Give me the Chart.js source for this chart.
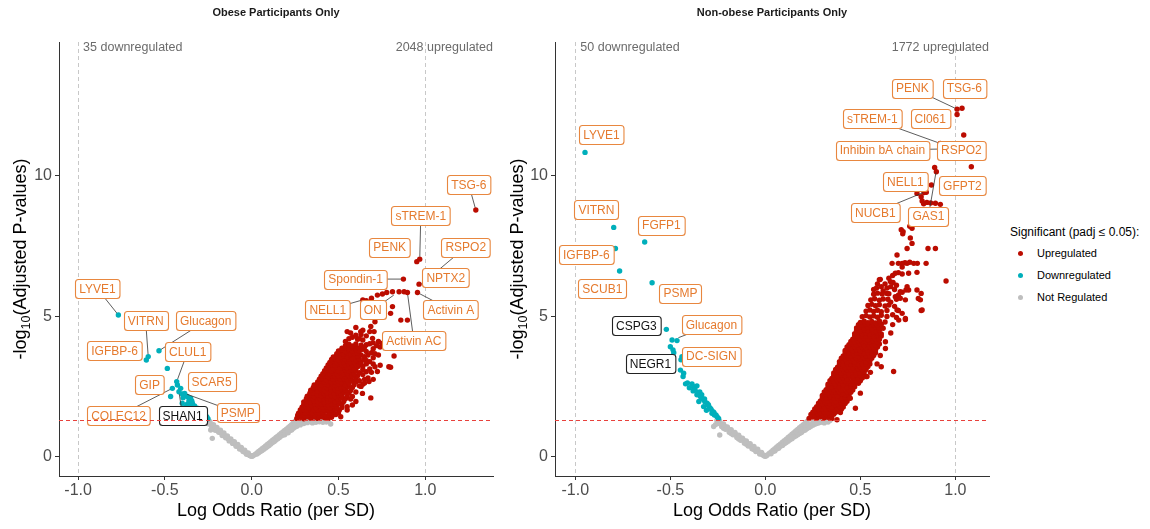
<!DOCTYPE html>
<html><head><meta charset="utf-8">
<script src="https://cdn.jsdelivr.net/npm/chart.js@4.4.1/dist/chart.umd.min.js"></script>
<style>
html,body{margin:0;padding:0;background:#fff;}
#wrap{position:relative;width:1150px;height:529px;overflow:hidden;font-family:"Liberation Sans",Arial,sans-serif;}
canvas{position:absolute;top:0;}
#c1{left:0;} #c2{left:500px;}
.lg{position:absolute;white-space:nowrap;color:#000;line-height:14px;}
.dot{position:absolute;width:5px;height:5px;border-radius:50%;}
</style></head>
<body><div id="wrap">
<canvas id="c1" width="500" height="529"></canvas>
<canvas id="c2" width="500" height="529"></canvas>
<div class="lg" style="left:1010px;top:225px;font-size:12px;">Significant (padj ≤ 0.05):</div>
<div class="dot" style="left:1018px;top:251px;background:#bb0c00"></div>
<div class="lg" style="left:1037px;top:246px;font-size:11px;">Upregulated</div>
<div class="dot" style="left:1018px;top:273px;background:#00afbb"></div>
<div class="lg" style="left:1037px;top:268px;font-size:11px;">Downregulated</div>
<div class="dot" style="left:1018px;top:295px;background:#bebebe"></div>
<div class="lg" style="left:1037px;top:290px;font-size:11px;">Not Regulated</div>
</div>
<script>
const FF = '"Liberation Sans", Arial, sans-serif';
const xTicks = [-1, -0.5, 0, 0.5, 1];
const yTicks = [0, 5, 10];
const panelTitles = ['Obese Participants Only', 'Non-obese Participants Only'];
const downCounts = [35, 50];
const upCounts = [2048, 1772];
const fcLines = [-1, 1];
const padjLine = 1.30103;

const obeseUp = [
[.26,1.36],[.28,1.40],[.30,1.35],[.32,1.42],[.34,1.37],[.36,1.41],[.38,1.36],[.40,1.42],[.42,1.38],[.44,1.36],[.46,1.40],
[.265,1.47],[.285,1.49],[.305,1.46],[.325,1.48],[.345,1.50],[.365,1.46],[.385,1.48],[.405,1.49],[.425,1.46],[.445,1.48],[.465,1.47],[.485,1.50],
[.27,1.55],[.29,1.60],[.31,1.54],[.33,1.59],[.35,1.56],[.37,1.61],[.39,1.55],[.41,1.58],[.43,1.62],[.45,1.55],[.47,1.59],[.50,1.56],
[.28,1.66],[.30,1.68],[.32,1.65],[.34,1.69],[.36,1.66],[.38,1.67],[.40,1.69],[.42,1.65],[.44,1.68],[.46,1.66],[.48,1.69],[.505,1.66],
[.29,1.76],[.31,1.80],[.33,1.74],[.35,1.79],[.37,1.75],[.39,1.81],[.41,1.76],[.43,1.78],[.45,1.74],[.47,1.80],[.49,1.77],[.52,1.75],
[.30,1.86],[.32,1.88],[.34,1.85],[.36,1.89],[.38,1.86],[.40,1.87],[.42,1.89],[.44,1.85],[.46,1.88],[.48,1.86],[.50,1.89],[.52,1.86],
[.30,1.95],[.32,2.00],[.34,1.94],[.36,1.99],[.38,1.96],[.40,2.01],[.42,1.95],[.44,1.98],[.46,2.02],[.48,1.95],[.50,1.99],[.53,1.96],
[.315,2.06],[.335,2.08],[.355,2.05],[.375,2.09],[.395,2.06],[.415,2.07],[.435,2.09],[.455,2.05],[.475,2.08],[.495,2.06],[.515,2.09],[.54,2.06],
[.32,2.15],[.34,2.20],[.36,2.14],[.38,2.19],[.40,2.16],[.42,2.21],[.44,2.15],[.46,2.18],[.48,2.14],[.50,2.20],[.52,2.17],[.55,2.15],
[.335,2.26],[.355,2.28],[.375,2.25],[.395,2.29],[.415,2.26],[.435,2.27],[.455,2.29],[.475,2.25],[.495,2.28],[.515,2.26],[.535,2.29],[.56,2.26],
[.34,2.36],[.36,2.40],[.38,2.34],[.40,2.39],[.42,2.35],[.44,2.41],[.46,2.36],[.48,2.38],[.50,2.34],[.52,2.40],[.54,2.37],[.57,2.35],
[.355,2.46],[.375,2.48],[.395,2.45],[.415,2.49],[.435,2.46],[.455,2.47],[.475,2.49],[.495,2.45],[.515,2.48],[.535,2.46],[.555,2.49],[.58,2.46],
[.36,2.55],[.38,2.60],[.40,2.54],[.42,2.59],[.44,2.56],[.46,2.61],[.48,2.55],[.50,2.58],[.52,2.62],[.54,2.55],[.56,2.59],[.59,2.56],
[.38,2.66],[.40,2.68],[.42,2.65],[.44,2.69],[.46,2.66],[.48,2.67],[.50,2.69],[.52,2.65],[.54,2.68],[.56,2.66],[.58,2.69],[.60,2.66],
[.39,2.76],[.41,2.80],[.43,2.74],[.45,2.79],[.47,2.75],[.49,2.81],[.51,2.76],[.53,2.78],[.55,2.74],[.57,2.80],[.60,2.77],
[.40,2.86],[.42,2.88],[.44,2.85],[.46,2.89],[.48,2.86],[.50,2.87],[.52,2.89],[.54,2.85],[.56,2.88],[.58,2.86],[.61,2.88],
[.41,2.95],[.43,3.00],[.45,2.94],[.47,2.99],[.49,2.96],[.51,3.01],[.53,2.95],[.55,2.98],[.57,3.02],[.59,2.95],[.62,2.99],
[.42,3.06],[.44,3.08],[.46,3.05],[.48,3.09],[.50,3.06],[.52,3.07],[.54,3.09],[.56,3.05],[.58,3.08],[.60,3.06],
[.43,3.16],[.45,3.20],[.47,3.14],[.49,3.19],[.51,3.15],[.53,3.21],[.55,3.16],[.57,3.18],[.59,3.14],[.61,3.20],
[.44,3.26],[.46,3.28],[.48,3.25],[.50,3.29],[.52,3.26],[.54,3.27],[.56,3.29],[.58,3.25],[.60,3.28],[.62,3.26],
[.45,3.35],[.47,3.40],[.49,3.34],[.51,3.39],[.53,3.36],[.55,3.41],[.57,3.35],[.59,3.38],[.61,3.42],[.63,3.36],
[.46,3.46],[.48,3.48],[.50,3.45],[.52,3.49],[.54,3.46],[.56,3.47],[.58,3.49],[.60,3.45],[.62,3.48],
[.47,3.55],[.49,3.60],[.51,3.54],[.53,3.59],[.55,3.56],[.57,3.61],[.59,3.55],[.61,3.58],[.63,3.62],
[.49,3.66],[.51,3.68],[.53,3.65],[.55,3.69],[.57,3.66],[.59,3.67],[.61,3.69],
[.50,3.76],[.52,3.80],[.54,3.74],[.56,3.79],[.58,3.75],[.60,3.81],[.62,3.77],
[.52,3.86],[.54,3.88],[.56,3.85],[.58,3.89],[.60,3.86],[.62,3.87],
[.54,3.95],[.56,4.00],[.58,3.94],[.60,4.01],[.63,3.97],
[.62,2.52],[.64,2.58],[.62,2.70],[.65,2.75],[.64,2.92],[.66,3.02],[.64,3.10],[.68,3.12],[.64,3.22],[.66,3.30],[.68,3.38],
[.70,3.30],[.65,3.46],[.65,3.56],[.67,3.62],[.69,3.70],[.71,3.66],[.66,3.74],[.64,3.82],[.66,3.98],[.70,3.84],[.75,4.03],
[.70,4.05],[.73,4.10],[.54,4.10],[.56,4.20],[.60,4.32],[.63,4.35],[.66,4.30],[.68,4.45],[.57,4.40],[.61,4.18],[.64,4.15],
[.60,1.96],[.638,2.25],[.686,2.09],[.676,2.67],[.724,3.03],[.79,3.20],[.513,1.42],[.55,1.78],[.58,2.14],[.70,2.75],[.74,3.25],
[.65,2.62],[.67,2.80],[.69,3.00],[.71,3.20],[.66,3.42],[.70,3.52],[.73,3.62],[.65,3.90],[.68,4.02],[.72,3.95],[.74,3.90],
[.62,4.20],[.58,4.25],[.55,4.45],[.60,4.60],[.64,4.50],[.628,4.45],[.686,4.63],[.705,4.45],[.696,4.21],[.705,5.04],[.72,5.00],
[.71,4.80],[.82,3.58],[.80,3.18],[.58,1.84],[.55,1.66],[.57,2.05],[.60,2.30],[.63,2.50],[.859,4.86],[.897,4.86],[.811,5.34],
[.80,5.10],[.69,5.64],[.724,5.75],[.753,5.79],[.778,5.84],[.811,5.87],[.849,5.87],[.878,5.87],[.897,5.84],[.955,5.84],
[.964,6.14],[.874,6.32],[.951,6.94],[.968,7.03],[1.291,8.78],[.64,5.58],[.66,5.55]
];
const obeseDown = [
[-.768,5.04],[-.596,3.56],[-.607,3.44],[-.534,3.77],[-.486,3.14],[-.432,2.67],[-.428,2.55],[-.409,2.43],[-.457,2.43],
[-.419,2.31],[-.40,2.23],[-.386,2.25],[-.467,2.14],[-.371,2.14],[-.352,2.08],[-.361,1.96],[-.342,1.90],[-.371,1.87],
[-.329,1.80],[-.313,1.72],[-.352,1.78],[-.294,1.64],[-.275,1.54],[-.259,1.42],[-.252,1.35],[-.40,1.90],[-.38,1.78],
[-.36,2.02],[-.34,1.84],[-.32,1.66],[-.30,1.58],[-.28,1.46],[-.395,2.10],[-.345,1.98],[-.365,1.80]
];
const obeseNS = [
[-.26,1.27],[-.255,1.22],[-.25,1.29],[-.245,1.20],[-.24,1.16],[-.236,0.95],[-.232,1.12],[-.227,0.65],[-.225,1.09],[-.22,1.04],
[-.215,1.06],[-.21,1.01],[-.205,0.98],[-.20,0.96],[-.195,0.93],[-.19,0.90],[-.185,0.92],[-.18,0.87],[-.175,0.84],[-.17,0.82],
[-.165,0.80],[-.16,0.77],[-.155,0.74],[-.15,0.72],[-.145,0.70],[-.14,0.67],[-.135,0.64],[-.13,0.62],[-.125,0.60],[-.12,0.57],
[-.115,0.55],[-.11,0.52],[-.105,0.50],[-.10,0.47],[-.095,0.45],[-.09,0.42],[-.085,0.40],[-.08,0.37],[-.075,0.35],[-.07,0.32],
[-.065,0.30],[-.06,0.27],[-.055,0.25],[-.05,0.22],[-.045,0.20],[-.04,0.17],[-.035,0.15],[-.03,0.12],[-.025,0.10],[-.02,0.08],
[-.015,0.06],[-.01,0.04],[-.005,0.02],[0,0.01],[-.21,0.94],[-.17,0.75],[-.13,0.56],[-.09,0.37],[-.05,0.18],[-.23,1.02],
[-.25,1.17],[-.19,0.87],[-.15,0.67],[-.11,0.47],[-.07,0.27],[-.03,0.08],
[-.24,1.24],[-.22,1.14],[-.20,1.04],[-.18,0.94],[-.16,0.84],[-.14,0.74],[-.12,0.63],[-.10,0.53],[-.08,0.43],[-.06,0.33],[-.04,0.23],[-.02,0.13],
[.005,.02],[.01,.04],[.02,.08],[.03,.13],[.04,.18],[.05,.23],[.06,.28],[.07,.33],[.08,.38],[.09,.43],[.10,.48],[.11,.53],
[.12,.58],[.13,.63],[.14,.68],[.15,.73],[.16,.78],[.17,.83],[.18,.88],[.19,.93],[.20,.98],[.21,1.03],[.22,1.08],[.23,1.14],
[.24,1.20],[.25,1.26],[.04,.14],[.06,.22],[.08,.31],[.10,.40],[.12,.50],[.14,.59],[.16,.68],[.18,.77],[.20,.85],[.22,.93],
[.24,1.01],[.26,1.08],[.28,1.13],[.30,1.18],[.32,1.21],[.34,1.24],[.36,1.26],[.38,1.28],[.27,1.22],[.29,1.27],[.31,1.29],
[.33,1.28],[.25,1.14],[.23,1.02],[.21,.92],[.19,.84],[.35,1.20],[.37,1.22],[.40,1.27],[.42,1.29],[.44,1.26],[.455,1.16],
[.03,.09],[.05,.18],[.07,.26],[.09,.35],[.11,.45],[.13,.54],[.15,.64],[.17,.73],[.19,.78],[.21,.85],[.23,.95],[.25,1.05],
[.27,1.15],[.29,1.21],[.31,1.24],[.33,1.25],[.35,1.28],[.39,1.24],[.41,1.22],[.43,1.23]
];

const nonObeseUp = [
[.23,1.36],[.25,1.41],[.27,1.37],[.29,1.42],[.31,1.38],[.33,1.40],[.35,1.36],
[.24,1.50],[.26,1.48],[.28,1.51],[.30,1.49],[.32,1.50],[.34,1.48],[.36,1.51],
[.25,1.58],[.27,1.62],[.29,1.56],[.31,1.61],[.33,1.57],[.35,1.63],[.37,1.58],
[.26,1.70],[.28,1.68],[.30,1.71],[.32,1.69],[.34,1.70],[.36,1.68],[.38,1.71],[.40,1.69],
[.27,1.78],[.29,1.82],[.31,1.77],[.33,1.81],[.35,1.76],[.37,1.83],[.39,1.79],[.41,1.77],
[.28,1.90],[.30,1.88],[.32,1.91],[.34,1.89],[.36,1.90],[.38,1.88],[.40,1.91],[.42,1.89],
[.29,1.98],[.31,2.02],[.33,1.97],[.35,2.01],[.37,1.96],[.39,2.03],[.41,1.99],[.43,1.97],
[.30,2.10],[.32,2.08],[.34,2.11],[.36,2.09],[.38,2.10],[.40,2.08],[.42,2.11],[.44,2.09],
[.30,2.18],[.32,2.22],[.34,2.17],[.36,2.21],[.38,2.16],[.40,2.23],[.42,2.19],[.44,2.17],
[.31,2.30],[.33,2.28],[.35,2.31],[.37,2.29],[.39,2.30],[.41,2.28],[.43,2.31],[.45,2.29],
[.32,2.38],[.34,2.42],[.36,2.37],[.38,2.41],[.40,2.36],[.42,2.43],[.44,2.39],[.46,2.37],
[.33,2.50],[.35,2.48],[.37,2.51],[.39,2.49],[.41,2.50],[.43,2.48],[.45,2.51],[.47,2.49],
[.33,2.58],[.35,2.62],[.37,2.57],[.39,2.61],[.41,2.56],[.43,2.63],[.45,2.59],[.47,2.57],[.49,2.61],
[.34,2.70],[.36,2.68],[.38,2.71],[.40,2.69],[.42,2.70],[.44,2.68],[.46,2.71],[.48,2.69],[.50,2.70],
[.35,2.78],[.37,2.82],[.39,2.77],[.41,2.81],[.43,2.76],[.45,2.83],[.47,2.79],[.49,2.77],[.51,2.80],
[.36,2.90],[.38,2.88],[.40,2.91],[.42,2.89],[.44,2.90],[.46,2.88],[.48,2.91],[.50,2.89],[.52,2.90],
[.36,2.98],[.38,3.02],[.40,2.97],[.42,3.01],[.44,2.96],[.46,3.03],[.48,2.99],[.50,2.97],[.52,3.01],
[.37,3.10],[.39,3.08],[.41,3.11],[.43,3.09],[.45,3.10],[.47,3.08],[.49,3.11],[.51,3.09],[.53,3.10],
[.38,3.18],[.40,3.22],[.42,3.17],[.44,3.21],[.46,3.16],[.48,3.23],[.50,3.19],[.52,3.17],[.54,3.21],
[.39,3.30],[.41,3.28],[.43,3.31],[.45,3.29],[.47,3.30],[.49,3.28],[.51,3.31],[.53,3.29],[.55,3.30],
[.39,3.38],[.41,3.42],[.43,3.37],[.45,3.41],[.47,3.36],[.49,3.43],[.51,3.39],[.53,3.37],[.55,3.41],
[.40,3.50],[.42,3.48],[.44,3.51],[.46,3.49],[.48,3.50],[.50,3.48],[.52,3.51],[.54,3.49],[.56,3.50],
[.41,3.58],[.43,3.62],[.45,3.57],[.47,3.61],[.49,3.56],[.51,3.63],[.53,3.59],[.55,3.57],[.57,3.60],
[.42,3.70],[.44,3.68],[.46,3.71],[.48,3.69],[.50,3.70],[.52,3.68],[.54,3.71],[.56,3.69],[.58,3.70],
[.42,3.78],[.44,3.82],[.46,3.77],[.48,3.81],[.50,3.76],[.52,3.83],[.54,3.79],[.56,3.77],[.58,3.80],
[.43,3.90],[.45,3.88],[.47,3.91],[.49,3.89],[.51,3.90],[.53,3.88],[.55,3.91],[.57,3.89],[.59,3.90],
[.44,3.98],[.46,4.02],[.48,3.97],[.50,4.01],[.52,3.96],[.54,4.03],[.56,3.99],[.58,3.97],[.60,4.01],
[.45,4.10],[.47,4.08],[.49,4.11],[.51,4.09],[.53,4.10],[.55,4.08],[.57,4.11],[.59,4.09],
[.46,4.18],[.48,4.22],[.50,4.17],[.52,4.21],[.54,4.16],[.56,4.23],[.58,4.19],[.60,4.17],
[.47,4.30],[.49,4.28],[.51,4.31],[.53,4.29],[.55,4.30],[.57,4.28],[.59,4.31],[.61,4.29],
[.47,4.38],[.49,4.42],[.51,4.37],[.53,4.41],[.55,4.36],[.57,4.43],[.59,4.39],[.61,4.37],
[.48,4.50],[.50,4.48],[.52,4.51],[.54,4.49],[.56,4.50],[.58,4.48],[.60,4.51],
[.48,4.58],[.50,4.62],[.52,4.57],[.54,4.61],[.56,4.56],[.58,4.63],[.60,4.59],[.62,4.57],
[.49,4.70],[.51,4.68],[.53,4.71],[.55,4.69],[.57,4.70],[.59,4.68],[.61,4.71],
[.50,4.78],[.52,4.82],[.54,4.77],[.56,4.81],[.58,4.76],[.60,4.83],[.63,4.79],
[.51,4.98],[.53,5.02],[.55,4.97],[.57,5.01],[.59,4.96],[.61,5.03],[.64,4.99],
[.53,5.18],[.55,5.22],[.57,5.17],[.59,5.21],[.61,5.16],[.64,5.20],
[.54,5.38],[.56,5.42],[.58,5.37],[.60,5.41],[.63,5.36],[.65,5.40],
[.555,5.58],[.575,5.62],[.60,5.57],[.62,5.61],[.645,5.60],
[.57,5.78],[.59,5.82],[.615,5.79],[.64,5.81],
[.585,6.00],[.61,6.05],
[.62,5.90],[.64,6.00],[.66,6.05],[.68,5.95],[.70,5.75],[.72,5.85],[.74,5.93],[.66,5.50],[.68,5.35],[.70,5.20],[.67,5.05],
[.69,4.95],[.72,5.10],[.754,5.93],[.69,5.60],[.63,6.15],[.65,6.35],[.67,6.45],[.70,6.55],[.72,6.75],[.735,6.90],[.76,6.92],
[.80,6.88],[.57,5.95],[.59,6.15],[.60,6.30],[.816,5.58],[.82,5.20],[.71,5.64],
[.605,6.31],[.658,6.23],[.672,6.20],[.69,6.10],[.746,6.05],[.798,5.93],[.805,5.63],[.82,5.81],[.825,5.22],[.737,4.92],
[.702,4.86],[.675,3.03],[.61,3.20],[.53,2.85],[.474,1.72],[.395,1.57],[.377,1.31],[.951,6.25],[.667,6.88],[.693,7.18],
[.70,6.88],[.72,6.88],[.746,6.88],[.781,6.88],[.846,6.88],[.684,6.53],[.72,6.50],[.754,6.53],[.798,6.56],[.746,7.41],
[.772,7.59],[.763,7.78],[.772,8.13],[.76,8.20],[.723,7.93],[.856,7.41],[.895,7.41],[.725,8.01],[.715,8.08],
[1.009,12.37],[1.035,12.40],[1.009,12.18],[1.044,11.45],[1.084,10.32],[.891,10.29],[.90,10.14],[.874,9.67],[.847,9.41],
[.835,9.40],[.798,9.37],[.82,9.25],[.825,9.10],[.85,9.05],[.87,9.03],[.895,9.02],[.921,8.98],[.833,9.00],[.92,11.15],[.925,10.95],
[.71,5.87],[.684,5.69],[.737,5.58],[.693,5.22],[.737,4.88],[.632,4.09],[.632,3.85],[.605,3.60],[.588,3.30],[.553,3.00],
[.535,2.85],[.50,2.26],[.447,2.08],[.66,4.40],[.67,4.70],[.65,5.80]
];
const nonObeseDown = [
[-.949,10.83],[-.798,8.16],[-.789,7.41],[-.635,7.64],[-.767,6.61],[-.596,6.19],[-.521,4.53],[-.491,4.15],[-.465,4.13],
[-.50,3.91],[-.486,3.80],[-.482,3.70],[-.439,3.56],[-.43,3.44],[-.444,3.45],[-.447,3.08],[-.43,2.97],[-.433,2.85],
[-.42,2.59],[-.386,2.59],[-.377,2.49],[-.36,2.52],[-.38,2.34],[-.342,2.14],[-.334,2.08],[-.325,2.02],[-.35,1.96],
[-.307,1.90],[-.298,1.80],[-.29,1.72],[-.325,1.78],[-.281,1.54],[-.268,1.48],[-.254,1.42],[-.246,1.36],[-.36,2.20],
[-.345,2.30],[-.318,1.95],[-.31,1.65],[-.275,1.60],[-.40,2.45],[-.37,2.38],[-.355,2.28],[-.335,2.20],[-.30,1.85],
[-.285,1.68],[-.27,1.56],[-.26,1.48],[-.32,2.05],[-.41,2.62]
];
const nonObeseNS = [
[-.255,1.29],[-.25,1.26],[-.245,1.22],[-.24,1.20],[-.24,0.77],[-.272,1.07],[-.262,1.14],[-.235,1.17],[-.23,1.15],[-.225,1.12],
[-.22,1.10],[-.215,1.08],[-.21,1.05],[-.205,1.03],[-.20,1.00],[-.195,0.98],[-.19,0.95],[-.185,0.93],[-.18,0.90],[-.175,0.88],
[-.17,0.85],[-.165,0.83],[-.16,0.80],[-.155,0.78],[-.15,0.75],[-.145,0.73],[-.14,0.70],[-.135,0.68],[-.13,0.65],[-.125,0.63],
[-.12,0.60],[-.115,0.58],[-.11,0.55],[-.105,0.53],[-.10,0.50],[-.095,0.47],[-.09,0.45],[-.085,0.42],[-.08,0.40],[-.075,0.37],
[-.07,0.35],[-.065,0.32],[-.06,0.30],[-.055,0.27],[-.05,0.25],[-.045,0.22],[-.04,0.20],[-.035,0.17],[-.03,0.15],[-.025,0.12],
[-.02,0.10],[-.015,0.07],[-.01,0.05],[-.005,0.02],[0,0.01],[-.22,1.01],[-.18,0.82],[-.14,0.63],[-.10,0.44],[-.06,0.25],
[-.25,1.18],[-.23,1.07],[-.21,0.97],[-.19,0.87],[-.17,0.78],[-.15,0.68],[-.13,0.58],[-.11,0.48],[-.09,0.38],[-.07,0.28],[-.05,0.18],[-.03,0.09],
[-.24,1.26],[-.22,1.16],[-.20,1.06],[-.18,0.96],[-.16,0.86],[-.14,0.76],[-.12,0.66],[-.10,0.56],[-.08,0.46],[-.06,0.36],[-.04,0.26],[-.02,0.15],
[.005,.03],[.01,.06],[.02,.11],[.03,.17],[.04,.23],[.05,.28],[.06,.34],[.07,.40],[.08,.45],[.09,.51],[.10,.57],[.11,.62],
[.12,.68],[.13,.74],[.14,.80],[.15,.85],[.16,.91],[.17,.97],[.18,1.03],[.19,1.08],[.20,1.14],[.21,1.20],[.22,1.25],
[.04,.18],[.06,.27],[.08,.37],[.10,.46],[.12,.55],[.14,.64],[.16,.73],[.18,.82],[.20,.92],[.22,1.00],[.24,1.08],[.26,1.15],
[.28,1.20],[.30,1.24],[.32,1.27],[.34,1.29],[.23,1.14],[.25,1.22],[.27,1.26],[.29,1.29],[.21,1.06],[.19,0.96],[.17,0.87],
[.31,1.20],[.33,1.23],[.03,.10],[.05,.20],[.07,.30],[.09,.40],[.11,.50],[.13,.60],[.15,.70],[.17,.78],[.19,.86],[.21,.95],
[.23,1.04],[.25,1.12],[.27,1.18],[.29,1.22],[.31,1.25],[.33,1.27]
];

// label boxes: text, label centre (data units), optional leader target (data units), dark = black box
const obeseLabels = [
{t:'LYVE1',lx:-.888,ly:5.97,tx:-.768,ty:5.04},
{t:'VITRN',lx:-.611,ly:4.83,tx:-.596,ty:3.56},
{t:'Glucagon',lx:-.265,ly:4.83,tx:-.534,ty:3.77},
{t:'IGFBP-6',lx:-.790,ly:3.76},
{t:'CLUL1',lx:-.369,ly:3.73,tx:-.432,ty:2.67},
{t:'GIP',lx:-.588,ly:2.55},
{t:'SCAR5',lx:-.231,ly:2.66},
{t:'COLEC12',lx:-.767,ly:1.45,tx:-.457,ty:2.43},
{t:'SHAN1',lx:-.398,ly:1.45,tx:-.419,ty:2.31,dark:true},
{t:'PSMP',lx:-.081,ly:1.56,tx:-.386,ty:2.25},
{t:'Spondin-1',lx:.599,ly:6.32,tx:.874,ty:6.32},
{t:'NPTX2',lx:1.118,ly:6.36,tx:.964,ty:6.14},
{t:'NELL1',lx:.438,ly:5.22,tx:.64,ty:5.58},
{t:'ON',lx:.697,ly:5.22,tx:.83,ty:5.80},
{t:'Activin A',lx:1.147,ly:5.22,tx:.955,ty:5.84},
{t:'Activin AC',lx:.934,ly:4.12,tx:.897,ty:5.84},
{t:'TSG-6',lx:1.251,ly:9.67,tx:1.291,ty:8.78},
{t:'sTREM-1',lx:.974,ly:8.57,tx:.968,ty:7.03},
{t:'PENK',lx:.795,ly:7.46},
{t:'RSPO2',lx:1.233,ly:7.46,tx:1.02,ty:6.35}
];
const nonObeseLabels = [
{t:'PENK',lx:.774,ly:13.12,tx:1.009,ty:12.37},
{t:'TSG-6',lx:1.047,ly:13.12},
{t:'sTREM-1',lx:.563,ly:12.02,tx:.92,ty:11.15},
{t:'Cl061',lx:.868,ly:12.02},
{t:'Inhibin bA chain',lx:.616,ly:10.91,tx:.925,ty:10.95},
{t:'RSPO2',lx:1.032,ly:10.91},
{t:'NELL1',lx:.737,ly:9.80},
{t:'GFPT2',lx:1.037,ly:9.66},
{t:'NUCB1',lx:.579,ly:8.70,tx:.842,ty:9.43},
{t:'GAS1',lx:.858,ly:8.56,tx:.90,ty:10.20},
{t:'LYVE1',lx:-.863,ly:11.45},
{t:'VITRN',lx:-.889,ly:8.78},
{t:'FGFP1',lx:-.547,ly:8.24},
{t:'IGFBP-6',lx:-.942,ly:7.18},
{t:'SCUB1',lx:-.858,ly:5.97},
{t:'PSMP',lx:-.447,ly:5.82},
{t:'CSPG3',lx:-.679,ly:4.65,dark:true},
{t:'Glucagon',lx:-.284,ly:4.69,tx:-.47,ty:4.20},
{t:'NEGR1',lx:-.605,ly:3.30,dark:true},
{t:'DC-SIGN',lx:-.284,ly:3.58}
];

const panels = [
 {id:'c1', k:0, up:obeseUp, down:obeseDown, ns:obeseNS, labels:obeseLabels, xMin:-1.11, xMax:1.39, axisW:59, padRight:7, yTitleX:19},
 {id:'c2', k:1, up:nonObeseUp, down:nonObeseDown, ns:nonObeseNS, labels:nonObeseLabels, xMin:-1.107, xMax:1.177, axisW:55, padRight:11, yTitleX:16}
];

function boxPath(ctx, x, y, w, h, r){
  ctx.beginPath();
  ctx.moveTo(x+r,y); ctx.lineTo(x+w-r,y); ctx.quadraticCurveTo(x+w,y,x+w,y+r);
  ctx.lineTo(x+w,y+h-r); ctx.quadraticCurveTo(x+w,y+h,x+w-r,y+h);
  ctx.lineTo(x+r,y+h); ctx.quadraticCurveTo(x,y+h,x,y+h-r);
  ctx.lineTo(x,y+r); ctx.quadraticCurveTo(x,y,x+r,y); ctx.closePath();
}

function deco(p){
  return {
    id:'deco',
    beforeDatasetsDraw(chart){
      const {ctx, chartArea:a, scales:{x}} = chart;
      ctx.save();
      ctx.strokeStyle='#c8c8c8'; ctx.lineWidth=1; ctx.setLineDash([4,3]);
      fcLines.forEach(v=>{const px=Math.round(x.getPixelForValue(v))+0.5; ctx.beginPath(); ctx.moveTo(px,a.top); ctx.lineTo(px,a.bottom); ctx.stroke();});
      ctx.restore();
    },
    afterDatasetsDraw(chart){
      const {ctx, chartArea:a, scales:{x,y}} = chart;
      ctx.save();
      ctx.font='12px '+FF;
      const boxes = p.labels.map(L=>({L, cx:x.getPixelForValue(L.lx), cy:y.getPixelForValue(L.ly), w:ctx.measureText(L.t).width+8, h:19}));
      ctx.strokeStyle='#333'; ctx.lineWidth=0.8;
      boxes.forEach(b=>{
        if(b.L.tx===undefined) return;
        const tx=x.getPixelForValue(b.L.tx), ty=y.getPixelForValue(b.L.ty);
        const dx=tx-b.cx, dy=ty-b.cy, d=Math.hypot(dx,dy), s=Math.max(0,(d-2.5)/d);
        ctx.beginPath(); ctx.moveTo(b.cx,b.cy); ctx.lineTo(b.cx+dx*s,b.cy+dy*s); ctx.stroke();
      });
      ctx.textAlign='center'; ctx.textBaseline='middle';
      boxes.forEach(b=>{
        const bx=Math.round(b.cx-b.w/2)+0.5, by=Math.round(b.cy-b.h/2)+0.5;
        boxPath(ctx,bx,by,b.w,b.h,3);
        ctx.fillStyle='#fff'; ctx.fill();
        ctx.lineWidth=1.1; ctx.strokeStyle=b.L.dark?'#222':'#e8873f'; ctx.stroke();
        ctx.fillStyle=b.L.dark?'#111':'#e57a2e';
        ctx.fillText(b.L.t,b.cx,b.cy+1);
      });
      ctx.strokeStyle='#e8413c'; ctx.lineWidth=1; ctx.setLineDash([4,3]);
      const py=Math.round(y.getPixelForValue(padjLine))+0.5;
      ctx.beginPath(); ctx.moveTo(a.left,py); ctx.lineTo(a.right,py); ctx.stroke();
      ctx.restore();
    },
    afterDraw(chart){
      const {ctx, chartArea:a, scales:{x}} = chart;
      ctx.save();
      ctx.textBaseline='middle';
      ctx.font='bold 11px '+FF; ctx.fillStyle='#1a1a1a'; ctx.textAlign='center';
      ctx.fillText(panelTitles[p.k], (a.left+a.right)/2, 13);
      ctx.font='12.5px '+FF; ctx.fillStyle='#6b6b6b';
      ctx.textAlign='left'; ctx.fillText(downCounts[p.k]+' downregulated', x.getPixelForValue(-1)+5, 48);
      ctx.textAlign='right'; ctx.fillText(upCounts[p.k]+' upregulated', a.right, 48);
      ctx.font='18px '+FF; ctx.fillStyle='#000'; ctx.textAlign='center';
      ctx.fillText('Log Odds Ratio (per SD)', (a.left+a.right)/2, 511);
      ctx.translate(p.yTitleX, (a.top+a.bottom)/2); ctx.rotate(-Math.PI/2);
      ctx.textAlign='left'; ctx.textBaseline='alphabetic';
      const f1='18px '+FF, f2='12.5px '+FF;
      ctx.font=f1; const w1=ctx.measureText('-log').width, w3=ctx.measureText('(Adjusted P-values)').width;
      ctx.font=f2; const w2=ctx.measureText('10').width;
      let sx=-(w1+w2+w3)/2; const base=6.5;
      ctx.font=f1; ctx.fillText('-log',sx,base); sx+=w1;
      ctx.font=f2; ctx.fillText('10',sx,base+4); sx+=w2;
      ctx.font=f1; ctx.fillText('(Adjusted P-values)',sx,base);
      ctx.restore();
    }
  };
}

const toXY = arr => arr.map(([x,y])=>({x,y}));

panels.forEach(p=>{
  new Chart(document.getElementById(p.id), {
    type:'scatter',
    data:{datasets:[
      {label:'Upregulated', data:toXY(p.up), backgroundColor:'#bb0c00', pointRadius:2.7, borderWidth:0, pointHoverRadius:2.7},
      {label:'Downregulated', data:toXY(p.down), backgroundColor:'#00afbb', pointRadius:2.7, borderWidth:0, pointHoverRadius:2.7},
      {label:'Not Regulated', data:toXY(p.ns), backgroundColor:'#bebebe', pointRadius:2.7, borderWidth:0, pointHoverRadius:2.7}
    ]},
    options:{
      responsive:false, animation:false, events:[],
      layout:{padding:{top:42, right:p.padRight, left:0, bottom:0}},
      plugins:{legend:{display:false}, tooltip:{enabled:false}, title:{display:false}},
      scales:{
        x:{type:'linear', min:p.xMin, max:p.xMax,
           afterBuildTicks:s=>{s.ticks=xTicks.map(v=>({value:v}));},
           afterFit:s=>{s.height=53;},
           ticks:{callback:v=>Number(v).toFixed(1), font:{size:16, family:FF}, color:'#4d4d4d', padding:1, autoSkip:false, maxRotation:0},
           grid:{display:true, drawOnChartArea:false, drawTicks:true, tickLength:4, tickColor:'#333', tickWidth:1},
           border:{display:true, color:'#333', width:1}},
        y:{type:'linear', min:-0.69, max:14.76,
           afterBuildTicks:s=>{s.ticks=yTicks.map(v=>({value:v}));},
           afterFit:s=>{s.width=p.axisW;},
           ticks:{callback:v=>String(v), font:{size:16, family:FF}, color:'#4d4d4d', padding:3, autoSkip:false},
           grid:{display:true, drawOnChartArea:false, drawTicks:true, tickLength:4, tickColor:'#333', tickWidth:1},
           border:{display:true, color:'#333', width:1}}
      }
    },
    plugins:[deco(p)]
  });
});
</script>
</body></html>
